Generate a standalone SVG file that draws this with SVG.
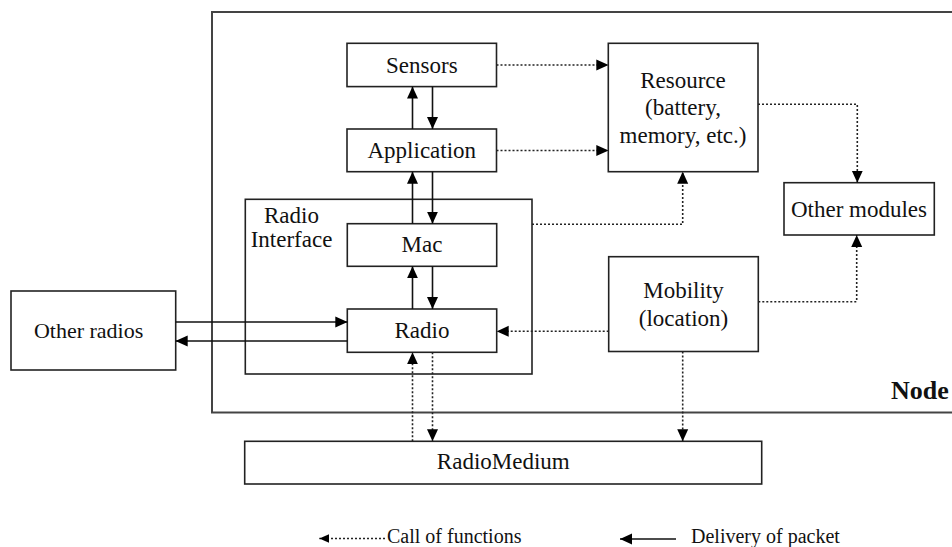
<svg xmlns="http://www.w3.org/2000/svg" width="952" height="547" viewBox="0 0 952 547">
<style>
text{font-size:23px;fill:#111;text-anchor:middle}
.box{fill:#fff;stroke:#222;stroke-width:1.6}
.frame{fill:none;stroke:#444;stroke-width:2}
.s{fill:none;stroke:#111;stroke-width:1.6}
.d{fill:none;stroke:#222;stroke-width:1.6;stroke-dasharray:2 2}
</style>
<defs>
<marker id="ah" viewBox="0 0 12 12" refX="12" refY="6" markerWidth="12" markerHeight="12" orient="auto" markerUnits="userSpaceOnUse"><path d="M0,0.5 L12,6 L0,11.5 z" fill="#000"/></marker>
<marker id="ahs" viewBox="0 0 10 10" refX="10" refY="5" markerWidth="10" markerHeight="10" orient="auto" markerUnits="userSpaceOnUse"><path d="M0,0.5 L10,5 L0,9.5 z" fill="#000"/></marker>
</defs>
<rect width="952" height="547" fill="#fff"/>
<g font-family="Liberation Serif, Tinos, Times New Roman, DejaVu Serif, serif">
<g id="node-frame">
<rect class="frame" x="212" y="12" width="780" height="400.5"/>
<text x="891" y="398.5" style="font-weight:bold;font-size:26px;text-anchor:start">Node</text>
</g>
<g id="radio-interface">
<rect class="box" x="245.3" y="199.3" width="286.7" height="174.7"/>
<text x="291.5" y="223.3">Radio</text>
<text x="291.5" y="246.7">Interface</text>
</g>
<g id="sensors"><rect class="box" x="347" y="43.3" width="149.5" height="43.3"/><text x="421.8" y="72.5">Sensors</text></g>
<g id="application"><rect class="box" x="347" y="129" width="149.5" height="42.7"/><text x="421.8" y="157.7">Application</text></g>
<g id="mac"><rect class="box" x="347.3" y="223.7" width="149.4" height="42.6"/><text x="422" y="252.3">Mac</text></g>
<g id="radio"><rect class="box" x="347.3" y="309" width="149.4" height="43.3"/><text x="422" y="337.7">Radio</text></g>
<g id="other-radios"><rect class="box" x="11" y="291" width="164.7" height="79"/><text x="88.6" y="337.7" style="font-size:22px">Other radios</text></g>
<g id="resource"><rect class="box" x="608.3" y="43.3" width="149.7" height="128.4"/>
<text x="683" y="87.5">Resource</text><text x="683" y="115">(battery,</text><text x="683" y="142.5">memory, etc.)</text></g>
<g id="other-modules"><rect class="box" x="784" y="182.7" width="150.3" height="52.3"/><text x="859" y="216.7">Other modules</text></g>
<g id="mobility"><rect class="box" x="608.7" y="256.7" width="149.6" height="94.8"/><text x="683.5" y="298.3">Mobility</text><text x="683.5" y="326">(location)</text></g>
<g id="radiomedium"><rect class="box" x="244.7" y="441.3" width="517" height="42.7"/><text x="503.3" y="469.3">RadioMedium</text></g>
<g id="connectors">
<line class="s" x1="412.5" y1="129" x2="412.5" y2="86.6" marker-end="url(#ah)"/>
<line class="s" x1="432.5" y1="86.6" x2="432.5" y2="129" marker-end="url(#ah)"/>
<line class="s" x1="412.5" y1="223.7" x2="412.5" y2="171.7" marker-end="url(#ah)"/>
<line class="s" x1="432.5" y1="171.7" x2="432.5" y2="223.7" marker-end="url(#ah)"/>
<line class="s" x1="412.5" y1="309" x2="412.5" y2="266.3" marker-end="url(#ah)"/>
<line class="s" x1="432.5" y1="266.3" x2="432.5" y2="309" marker-end="url(#ah)"/>
<line class="s" x1="175.7" y1="322" x2="347.3" y2="322" marker-end="url(#ah)"/>
<line class="s" x1="347.3" y1="341" x2="175.7" y2="341" marker-end="url(#ah)"/>
<line class="d" x1="496.5" y1="65" x2="608.3" y2="65" marker-end="url(#ah)"/>
<line class="d" x1="496.5" y1="150.5" x2="608.3" y2="150.5" marker-end="url(#ah)"/>
<polyline class="d" points="532,224.3 682.7,224.3 682.7,171.7" marker-end="url(#ah)"/>
<polyline class="d" points="758,104.3 857.3,104.3 857.3,182.7" marker-end="url(#ah)"/>
<polyline class="d" points="758.3,301.7 856.7,301.7 856.7,235" marker-end="url(#ah)"/>
<line class="d" x1="608.7" y1="331.3" x2="496.7" y2="331.3" marker-end="url(#ah)"/>
<line class="d" x1="412.5" y1="441.3" x2="412.5" y2="352.3" marker-end="url(#ah)"/>
<line class="d" x1="432.5" y1="352.3" x2="432.5" y2="441.3" marker-end="url(#ah)"/>
<line class="d" x1="682.7" y1="351.5" x2="682.7" y2="441.3" marker-end="url(#ah)"/>
</g>
<g id="legend">
<line class="d" x1="385" y1="538.5" x2="319.3" y2="538.5" stroke-width="1.2" marker-end="url(#ahs)"/>
<text x="387" y="543" style="font-size:20px;text-anchor:start">Call of functions</text>
<line class="s" x1="676" y1="539" x2="620" y2="539" marker-end="url(#ah)"/>
<text x="691" y="543" style="font-size:20px;text-anchor:start">Delivery of packet</text>
</g>
</g>
</svg>
